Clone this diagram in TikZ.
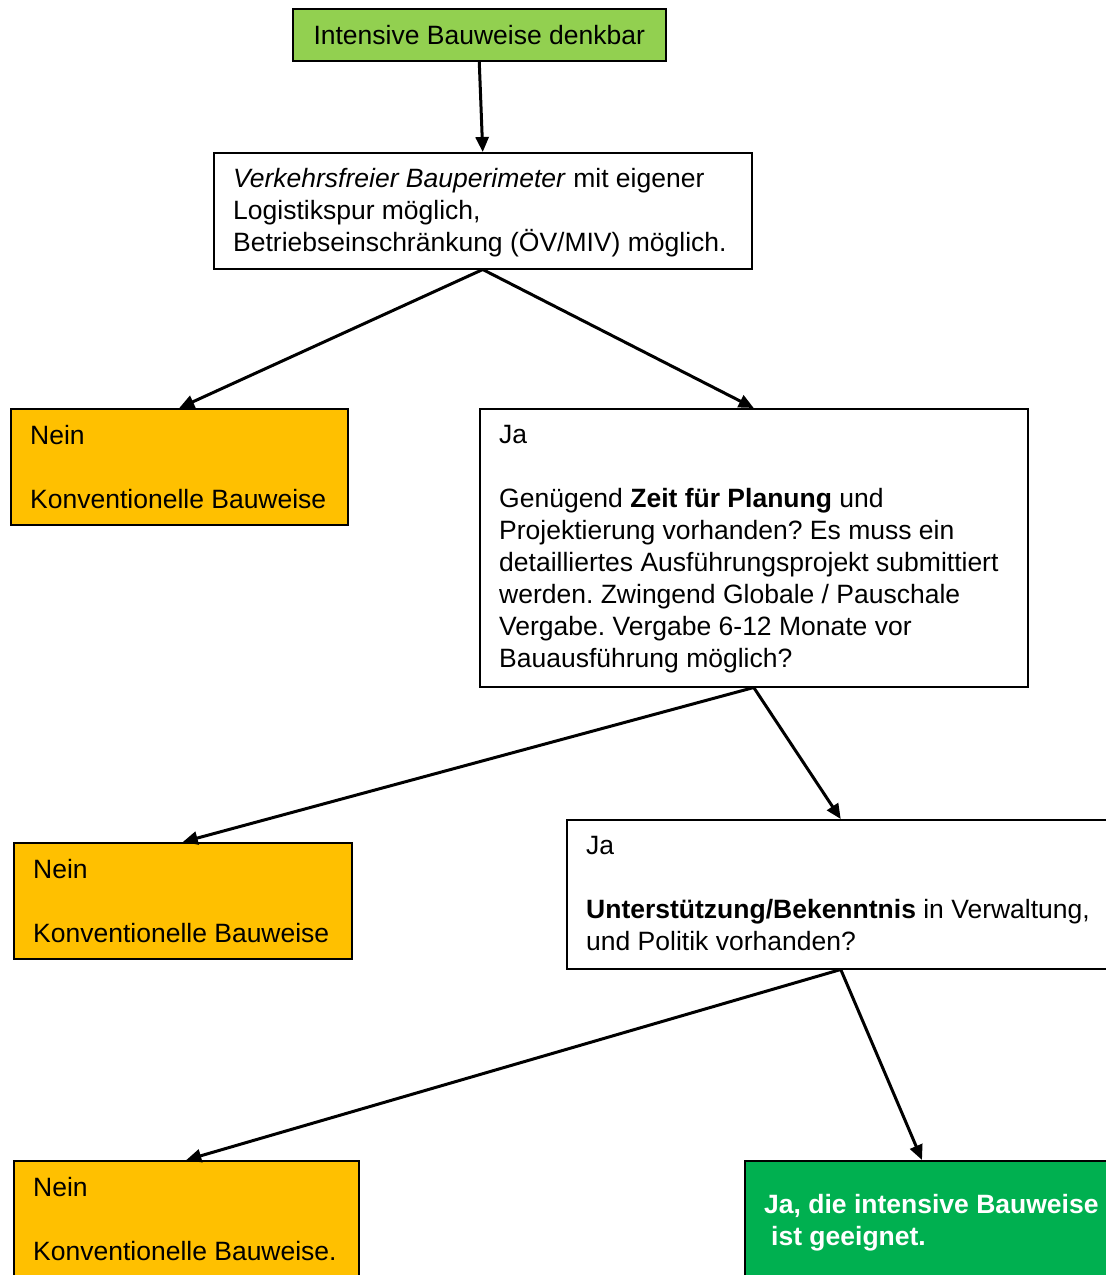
\documentclass[tikz,border=0pt]{standalone}
\usepackage{fontspec}
\setmainfont{Liberation Sans}
\usetikzlibrary{arrows.meta}
\definecolor{lgreen}{HTML}{92D050}
\definecolor{orng}{HTML}{FFC000}
\definecolor{dgreen}{HTML}{00B050}
\frenchspacing
\begin{document}
\begin{tikzpicture}[x=1pt,y=-1pt,
  box/.style={draw=black, line width=1.5pt, rectangle, inner sep=0pt, anchor=north west},
  txt/.style={anchor=north west, align=left, inner sep=0pt, font=\fontsize{26.5}{32}\selectfont},
  arr/.style={line width=3pt, -{Triangle[length=15pt,width=13pt]}}]
\useasboundingbox (0,0) rectangle (1106,1275);
\clip (0,0) rectangle (1106,1275);
% boxes
\node[box, fill=lgreen, minimum width=373pt, minimum height=52pt, font=\fontsize{26.5}{32}\selectfont] (start) at (292,8) {Intensive Bauweise denkbar};
\node[box, fill=white, minimum width=538pt, minimum height=116pt] (q1) at (213,152) {};
\node[box, fill=orng, minimum width=337pt, minimum height=116pt] (n1) at (10,408) {};
\node[box, fill=white, minimum width=548pt, minimum height=278pt] (q2) at (479,408) {};
\node[box, fill=orng, minimum width=338pt, minimum height=116pt] (n2) at (13,842) {};
\node[box, fill=white, minimum width=548pt, minimum height=149pt] (q3) at (566,819) {};
\node[box, fill=orng, minimum width=345pt, minimum height=140pt] (n3) at (13,1160) {};
\node[box, fill=dgreen, minimum width=400pt, minimum height=140pt] (fin) at (744,1160) {};
% texts
\node[txt] (q1t) at (233,168) {\textit{Verkehrsfreier Bauperimeter} mit eigener\\Logistikspur möglich,\\Betriebseinschränkung (ÖV/MIV) möglich.};
\node[txt] (n1t) at (30,425) {Nein\\[32pt]Konventionelle Bauweise};
\node[txt] (q2t) at (499,425) {Ja\\[32pt]Genügend \textbf{Zeit für Planung} und\\Projektierung vorhanden? Es muss ein\\detailliertes Ausführungsprojekt submittiert\\werden. Zwingend Globale / Pauschale\\Vergabe. Vergabe 6-12 Monate vor\\Bauausführung möglich?};
\node[txt] (n2t) at (33,859) {Nein\\[32pt]Konventionelle Bauweise};
\node[txt] (q3t) at (586,836) {Ja\\[32pt]\textbf{Unterstützung/Bekenntnis} in Verwaltung,\\und Politik vorhanden?};
\node[txt] (n3t) at (33,1177) {Nein\\[32pt]Konventionelle Bauweise.};
\node[txt, text=white, font=\fontsize{26.5}{32}\selectfont\bfseries] (fint) at (764,1194) {Ja, die intensive Bauweise\\\hspace*{7pt}ist geeignet.};
% connectors
\coordinate (finin) at ([xshift=178pt]fin.north west);
\draw[arr] (start.south) -- (q1.north);
\draw[arr] (q1.south) -- (n1.north);
\draw[arr] (q1.south) -- (q2.north);
\draw[arr] (q2.south) -- (n2.north);
\draw[arr] (q2.south) -- (q3.north);
\draw[arr] (q3.south) -- (n3.north);
\draw[arr] (q3.south) -- (finin);
\end{tikzpicture}
\end{document}
